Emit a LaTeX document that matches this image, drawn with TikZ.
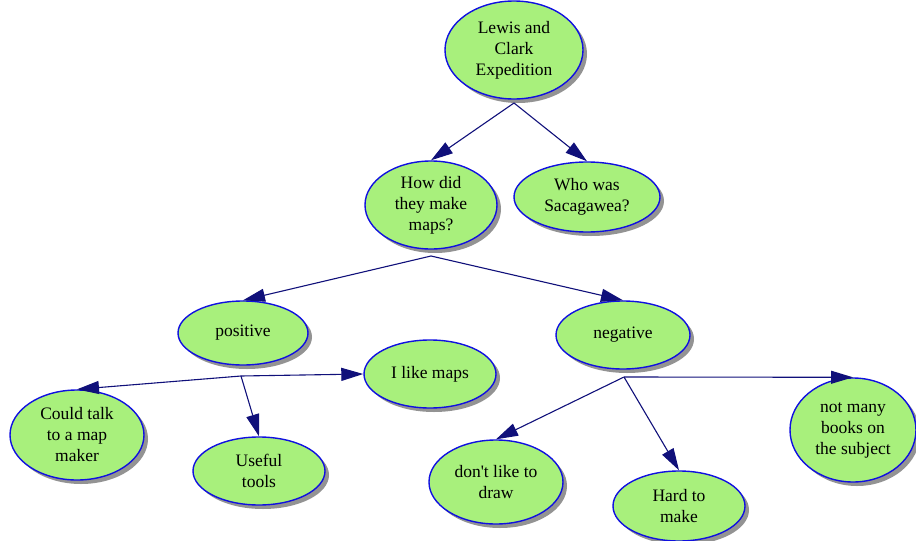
\documentclass[tikz,border=0pt]{standalone}
\usepackage{fontspec}
\setmainfont{Liberation Serif}
\usetikzlibrary{shapes.geometric,arrows.meta,shadows}
\definecolor{bubfill}{HTML}{A8F07C}
\definecolor{bubline}{HTML}{1010E0}
\definecolor{arrcol}{HTML}{10107A}
\tikzset{
  bub/.style 2 args={ellipse, draw=bubline, line width=1.4pt, fill=bubfill,
    minimum width=#1pt, minimum height=#2pt, inner sep=0pt, align=center,
    font=\fontsize{17.5}{21}\selectfont,
    drop shadow={shadow xshift=4pt, shadow yshift=-4pt, fill=gray!85, opacity=1}},
  link/.style={draw=arrcol, line width=1.1pt, -{Triangle[length=22pt,width=13pt]}, arrcol}
}
\begin{document}
\begin{tikzpicture}[x=1pt,y=-1pt]
\useasboundingbox (0,0) rectangle (916,541);
\node[bub={138}{98}] (lc) at (514,50) {Lewis and\\Clark\\Expedition};
\node[bub={132}{88}] (hd) at (431,205) {How did\\they make\\maps?};
\node[bub={146}{70}] (sa) at (587,197) {Who was\\Sacagawea?};
\node[bub={130}{64}] (po) at (243,333) {positive};
\node[bub={134}{68}] (ne) at (623,335) {negative};
\node[bub={132}{68}] (lm) at (430,374) {I like maps};
\node[bub={134}{90}] (ct) at (77,435) {Could talk\\to a map\\maker};
\node[bub={132}{68}] (ut) at (259,471) {Useful\\tools};
\node[bub={134}{84}] (dl) at (496,482) {don\textquotesingle t like to\\draw};
\node[bub={132}{70}] (hm) at (679,506) {Hard to\\make};
\node[bub={126}{104}] (nm) at (853,430) {not many\\books on\\the subject};
\coordinate (lcb) at (514,103);
\coordinate (hdb) at (431,256);
\coordinate (pob) at (241,376);
\coordinate (neb) at (624,377);
\draw[link] (lcb) -- (hd.north);
\draw[link] (lcb) -- (sa.north);
\draw[link] (hdb) -- (po.north);
\draw[link] (hdb) -- (ne.north);
\draw[link] (pob) -- (ct.north);
\draw[link] (pob) -- (ut.north);
\draw[link] (pob) -- (lm.west);
\draw[link] (neb) -- (dl.north);
\draw[link] (neb) -- (hm.north);
\draw[link] (neb) -- (nm.north);
\end{tikzpicture}
\end{document}
